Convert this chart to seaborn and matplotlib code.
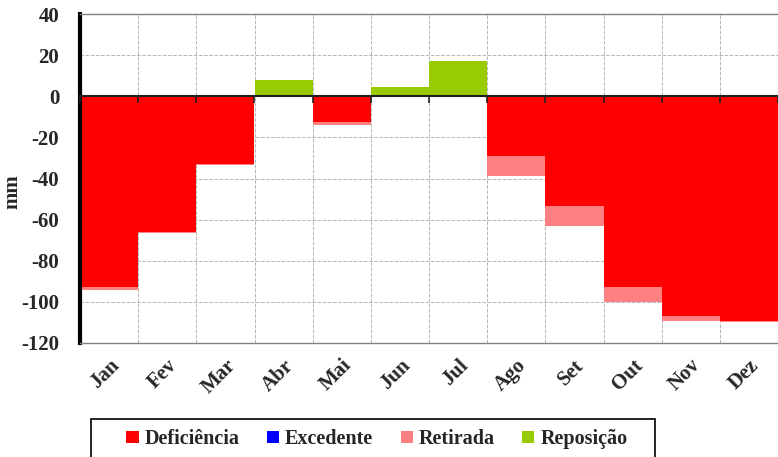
import seaborn as sns
import matplotlib.pyplot as plt
from matplotlib.patches import Patch, Rectangle
import numpy as np
import pandas as pd

# balanço hídrico mensal (mm)
meses = ['Jan', 'Fev', 'Mar', 'Abr', 'Mai', 'Jun', 'Jul', 'Ago', 'Set', 'Out', 'Nov', 'Dez']
deficiencia = [-93, -66, -33, 0, -12.5, 0, 0, -29, -53.5, -93, -107, -109.5]
excedente = [0, 0, 0, 0, 0, 0, 0, 0, 0, 0, 0, 0]
retirada = [-1, -0.5, -0.5, 0, -1.5, 0, 0, -10, -9.5, -7, -2.5, -0.5]
reposicao = [0, 0, 0, 8, 0, 4.5, 17, 0, 0, 0, 0, 0]
y_ticks = [-120, -100, -80, -60, -40, -20, 0, 20, 40]

cores = {'Deficiência': '#ff0000', 'Excedente': '#0000ff',
         'Retirada': '#ff8080', 'Reposição': '#99cc00'}

df = pd.DataFrame({'mes': meses, 'deficiencia': deficiencia, 'excedente': excedente,
                   'retirada': retirada, 'reposicao': reposicao})
# empilhamento: deficiência por cima da retirada (ambas negativas)
df['def_ret'] = df['deficiencia'] + df['retirada']

sns.set_style('white')
plt.rcParams['font.family'] = ['Liberation Serif', 'DejaVu Serif']

fig = plt.figure(figsize=(7.78, 4.57), dpi=100)
ax = fig.add_axes([80 / 778, 1 - 343 / 457, 698 / 778, 329 / 457])

kw = dict(x='mes', order=meses, width=1, saturation=1, linewidth=0, ax=ax)
sns.barplot(data=df, y='def_ret', color=cores['Retirada'], **kw)
sns.barplot(data=df, y='deficiencia', color=cores['Deficiência'], **kw)
sns.barplot(data=df, y='excedente', color=cores['Excedente'], **kw)
sns.barplot(data=df, y='reposicao', color=cores['Reposição'], **kw)

ax.set_ylim(-120, 40)
ax.set_xlim(-0.5, len(meses) - 0.5)
ax.set_yticks(y_ticks)
ax.set_yticklabels([str(v) for v in y_ticks], fontsize=15, fontweight='bold')
ax.set_xticks(range(len(meses)))
ax.set_xticklabels(meses, rotation=45, ha='right', rotation_mode='anchor',
                   fontsize=15, fontweight='bold')
ax.set_xticks(np.arange(-0.5, len(meses), 1), minor=True)
ax.tick_params(axis='x', which='both', length=0, pad=9)
ax.tick_params(axis='y', direction='out', length=5, width=2, color='black', pad=10)

# grade
ax.set_axisbelow(True)
ax.grid(which='minor', axis='x', ls='--', color='#b5b5b5', lw=0.7)
ax.grid(which='major', axis='y', ls='--', color='#b5b5b5', lw=0.7)
ax.grid(which='major', axis='x', visible=False)

for s in ['top', 'bottom']:
    ax.spines[s].set_color('#808080')
    ax.spines[s].set_linewidth(1)
ax.spines['right'].set_visible(False)
ax.spines['left'].set_color('black')
ax.spines['left'].set_linewidth(3)

# eixo das categorias cruzando em zero
sec = ax.secondary_xaxis((0 - (-120)) / 160)
sec.set_zorder(5)
sec.set_xticks(np.arange(-0.5, len(meses), 1))
sec.tick_params(direction='in', length=5, width=1.2, color='#202020', labeltop=False, labelbottom=False)
sec.spines['top'].set_color('#202020')
sec.spines['top'].set_linewidth(1.5)
sec.spines['bottom'].set_visible(False)

ax.set_xlabel('')
ax.set_ylabel('mm', fontsize=15, fontweight='bold')
ax.yaxis.set_label_coords(-58 / 698, 0.46)

# legenda
fig.patches.append(Rectangle((91 / 778, -0.05), (655 - 91) / 778, 0.05 + 1 - 419 / 457,
                             transform=fig.transFigure, fill=False, edgecolor='black', lw=1.2))
handles = [Patch(facecolor=c, edgecolor='none', label=k) for k, c in cores.items()]
leg = fig.legend(handles=handles, loc='center', bbox_to_anchor=(377 / 778, 1 - 439 / 457),
                 ncol=4, frameon=False, prop={'size': 14.5, 'weight': 'bold'},
                 handlelength=0.6, handleheight=0.6, handletextpad=0.3, columnspacing=1.36)

fig.savefig('out.png', dpi=100)
